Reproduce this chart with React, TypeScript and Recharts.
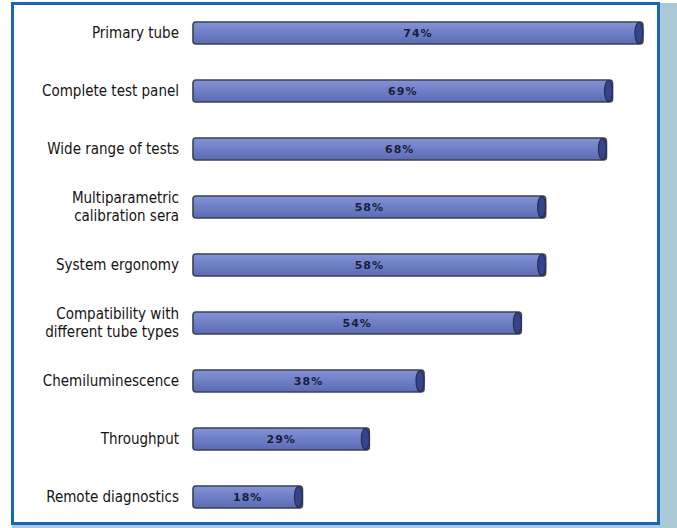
import React from 'react'
import { BarChart, Bar, XAxis, YAxis, LabelList } from 'recharts'

const categories = [
  'Primary tube',
  'Complete test panel',
  'Wide range of tests',
  'Multiparametric\ncalibration sera',
  'System ergonomy',
  'Compatibility with\ndifferent tube types',
  'Chemiluminescence',
  'Throughput',
  'Remote diagnostics',
]
const shares = [74, 69, 68, 58, 58, 54, 38, 29, 18]

const data = categories.map((name, i) => ({ name, value: shares[i] }))

const LABEL_FONT = '"Liberation Sans Narrow", "DejaVu Sans Condensed", "Open Sans", sans-serif'

function CategoryTick({ x, y, payload }: any) {
  const lines = String(payload.value).split('\n')
  const lh = 18
  const startY = y - ((lines.length - 1) * lh) / 2
  return (
    <text x={x} y={startY} textAnchor="end" dominantBaseline="central"
      fontFamily={LABEL_FONT} fontSize={15} fill="#141414">
      {lines.map((l, i) => (
        <tspan key={i} x={x} y={startY + i * lh}>{l}</tspan>
      ))}
    </text>
  )
}

function TubeBar(props: any) {
  const { x, y, width, height } = props
  if (!width || width <= 0) return null
  const r = 3
  const capRx = 4
  return (
    <g>
      <rect x={x} y={y} width={width} height={height} rx={r} ry={r}
        fill="url(#tubeFill)" stroke="#3d4056" strokeWidth={1.6} />
      <ellipse cx={x + width - capRx} cy={y + height / 2} rx={capRx} ry={height / 2 - 0.5}
        fill="#34448e" stroke="#2a2f48" strokeWidth={1.2} />
    </g>
  )
}

export default function App() {
  return (
    <div style={{ position: 'absolute', left: 0, top: 0, width: 677, height: 528, background: '#ffffff', overflow: 'hidden' }}>
      <div style={{ position: 'absolute', left: 12, top: 3, width: 665, height: 525, background: '#abc9d6' }} />
      <div style={{ position: 'absolute', left: 11, top: 2, width: 643, height: 517, background: '#ffffff', border: '3px solid #1667b8' }} />
      <div style={{ position: 'absolute', left: 0, top: 0 }}>
        <BarChart
          width={677}
          height={528}
          data={data}
          layout="vertical"
          margin={{ top: 4, right: 28, bottom: 2, left: 0 }}
          barCategoryGap={0}
        >
          <defs>
            <linearGradient id="tubeFill" x1="0" y1="0" x2="0" y2="1">
              <stop offset="0%" stopColor="#8593d6" />
              <stop offset="45%" stopColor="#7081c8" />
              <stop offset="100%" stopColor="#5a6bb4" />
            </linearGradient>
          </defs>
          <XAxis type="number" domain={[0, 75]} hide />
          <YAxis
            type="category"
            dataKey="name"
            width={193}
            axisLine={false}
            tickLine={false}
            tick={<CategoryTick />}
            tickMargin={8}
            interval={0}
          />
          <Bar dataKey="value" barSize={22} shape={<TubeBar />} isAnimationActive={false}>
            <LabelList
              dataKey="value"
              position="center"
              formatter={(v: any) => `${v}%`}
              style={{ fontFamily: 'Verdana, "DejaVu Sans", sans-serif', fontSize: 11, fontWeight: 700, letterSpacing: 1, fill: '#1b1d3a' }}
            />
          </Bar>
        </BarChart>
      </div>
    </div>
  )
}
